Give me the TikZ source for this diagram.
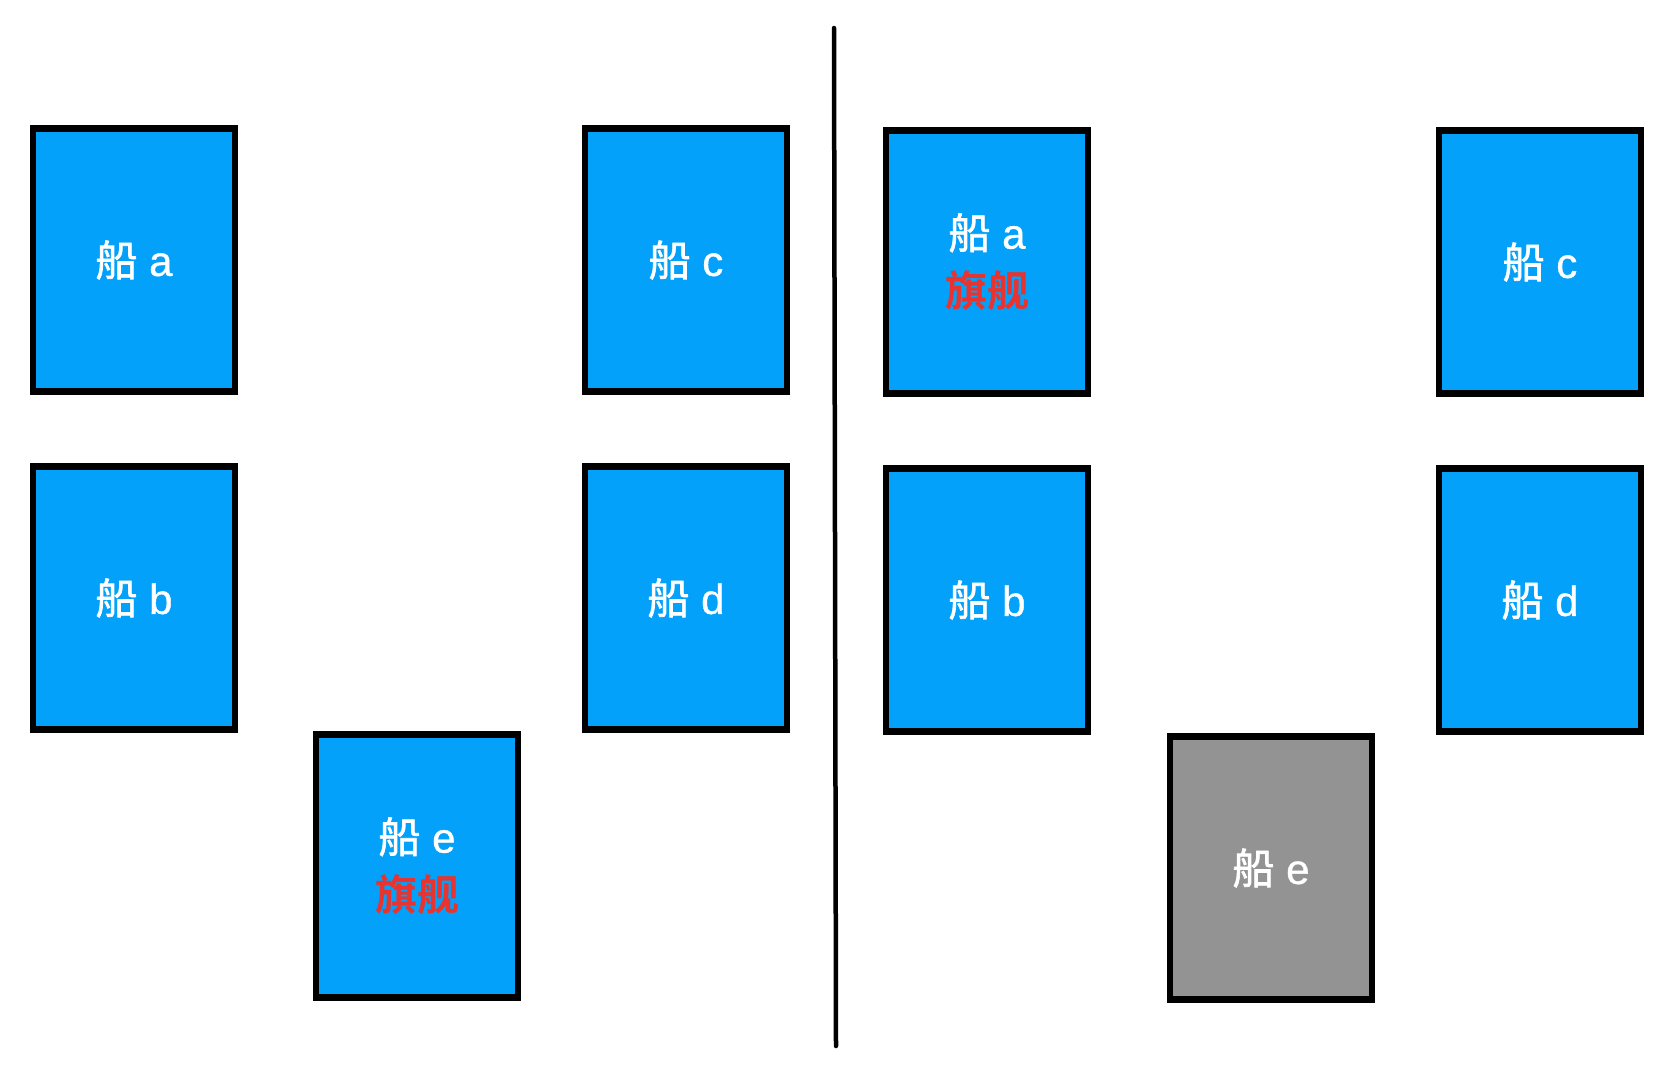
\documentclass[tikz,border=0pt]{standalone}
\usepackage{fontspec}
\setmainfont{Liberation Sans}[FakeBold=0.9]
\newfontfamily\cjk{Noto Sans CJK SC}[FakeBold=1.6]
\newfontfamily\cjkbold{Noto Sans CJK SC Bold}
\definecolor{shipblue}{HTML}{03A1F9}
\definecolor{shipgrey}{HTML}{939393}
\definecolor{flagred}{HTML}{E8332E}
\newcommand{\chuan}{{\cjk 船}}
\newcommand{\flagship}{{\cjkbold\color{flagred}旗舰}}
\tikzset{
  x=1pt, y=-1pt,
  ship/.style={rectangle, draw=black, line width=6.5pt, fill=shipblue,
    minimum width=202pt, minimum height=263pt, inner sep=0pt,
    text=white, align=center, font=\fontsize{42}{58}\selectfont},
  lost/.style={ship, fill=shipgrey},
  divider/.style={draw=black, line width=4.5pt, line cap=round}
}
\begin{document}
\begin{tikzpicture}
\useasboundingbox (0,0) rectangle (1676,1076);
% left half
\node[ship] (la) at (134,260) {\chuan{} a};
\node[ship] (lc) at (686,260) {\chuan{} c};
\node[ship] (lb) at (134,598) {\chuan{} b};
\node[ship] (ld) at (686,598) {\chuan{} d};
\node[ship] (le) at (417,866) {\chuan{} e\\\flagship};
% divider
\coordinate (top) at (834,28);
\coordinate (bot) at (836,1046);
\draw[divider] (top) -- (bot);
% right half
\node[ship] (ra) at (987,262) {\chuan{} a\\\flagship};
\node[ship] (rc) at (1540,262) {\chuan{} c};
\node[ship] (rb) at (987,600) {\chuan{} b};
\node[ship] (rd) at (1540,600) {\chuan{} d};
\node[lost] (re) at (1271,868) {\chuan{} e};
\end{tikzpicture}
\end{document}
